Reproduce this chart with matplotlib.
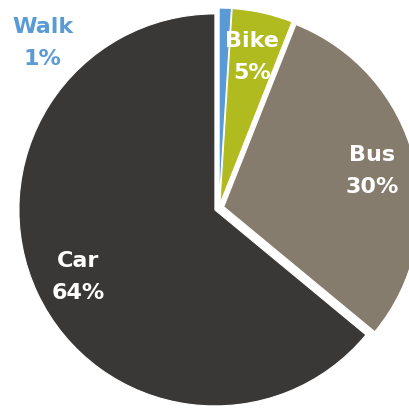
import numpy as np
import matplotlib.pyplot as plt

modes = ["Walk", "Bike", "Bus", "Car"]
shares = [1, 5, 30, 64]
colors = ["#5B9BD5", "#B0BB1F", "#857C6D", "#3A3836"]
label_colors = ["#5B9BD5", "white", "white", "white"]
explode = [0.02, 0.02, 0.025, 0.023]

# label anchor points, in pie-radius units
label_xy = [(-0.90, 0.84), (0.17, 0.77), (0.78, 0.19), (-0.72, -0.35)]

fig = plt.figure(figsize=(4.09, 4.09), dpi=100)
ax = fig.add_axes([0, 0, 1, 1])

r_px = 196.0
cx, cy = 219.0, 208.0
ax.pie(shares, colors=colors, explode=explode, startangle=90,
       counterclock=False, radius=1,
       wedgeprops=dict(edgecolor="white", linewidth=0.8))

for name, val, (x, y), c in zip(modes, shares, label_xy, label_colors):
    ax.text(x, y, f"{name}\n{val}%", ha="center", va="center",
            fontsize=16, fontweight="bold", color=c, linespacing=1.75,
            family="DejaVu Sans")

ax.set_xlim(-cx / r_px, (409 - cx) / r_px)
ax.set_ylim(-(409 - cy) / r_px, cy / r_px)
ax.set_aspect("equal")
ax.axis("off")

fig.savefig("out.png", dpi=100)
